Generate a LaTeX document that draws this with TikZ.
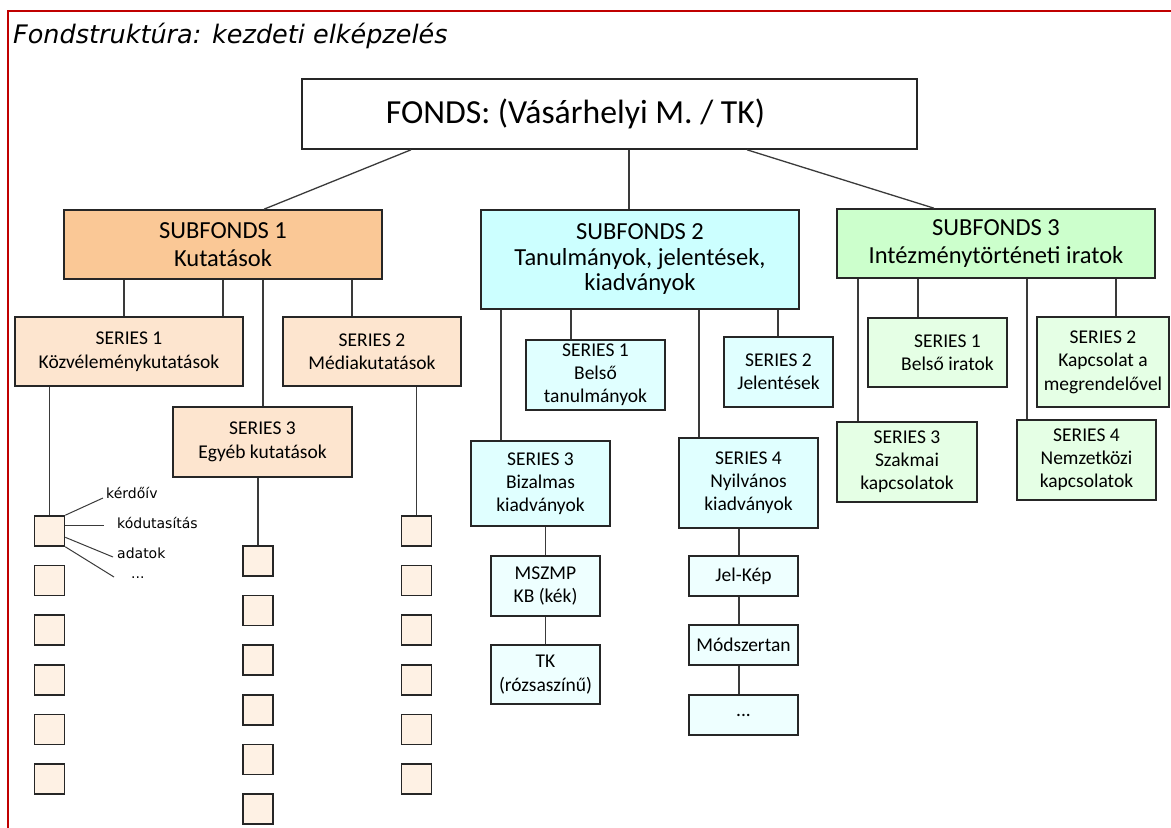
\documentclass[tikz,border=0pt]{standalone}
\usepackage{fontspec}
\setmainfont{Carlito}
\newfontfamily\verdfont{DejaVu Sans}
\usepackage{xcolor}
\usepackage{tikz}
\usetikzlibrary{calc}
\definecolor{frame}{HTML}{C00000}
\definecolor{edge}{HTML}{262626}
\definecolor{wire}{HTML}{3A3A3A}
\definecolor{orangeA}{HTML}{FAC896}
\definecolor{orangeB}{HTML}{FDE5CF}
\definecolor{orangeC}{HTML}{FEF1E4}
\definecolor{cyanA}{HTML}{CCFFFF}
\definecolor{cyanB}{HTML}{E0FFFF}
\definecolor{cyanC}{HTML}{EEFFFF}
\definecolor{greenA}{HTML}{CCFFCC}
\definecolor{greenB}{HTML}{E5FFE5}
\tikzset{
  box/.style={draw=edge, line width=1.6pt, align=center, inner sep=0pt},
  fondsbox/.style={box, fill=white, font=\fontsize{33.7}{40}\selectfont},
  subbox/.style={box, font=\fontsize{24.5}{28}\selectfont},
  serbox/.style={box, font=\fontsize{19.5}{23.5}\selectfont},
  unitbox/.style={box, fill=orangeC, minimum width=30pt, minimum height=30pt},
  conn/.style={draw=wire, line width=1.3pt},
  lab/.style={anchor=base west, inner sep=0pt, font=\verdfont\fontsize{14}{16}\selectfont}
}
\newcommand{\BoxAt}[6]{% style, name, left, top, right, bottom
  \node[#1, minimum width={#5pt-#3pt}, minimum height={#6pt-#4pt}]
    (#2) at ({(#3+#5)/2},{(#4+#6)/2})
}

\begin{document}
\begin{tikzpicture}[x=1pt, y=-1pt]
  \useasboundingbox (0,0) rectangle (1171,828);
  \draw[frame, line width=2pt] (1171,11) -- (8,11) -- (8,828);

  \node[anchor=base west, inner sep=0pt, font=\verdfont\itshape\fontsize{25.5}{30}\selectfont]
    (title) at (13,43) {Fondstruktúra: kezdeti elképzelés};

  % fonds and subfonds
  \BoxAt{fondsbox}{fonds}{302}{79}{917}{149} {FONDS: (Vásárhelyi M. / TK)\hspace*{68pt}};
  \BoxAt{subbox, fill=orangeA}{sfa}{64}{210}{382}{279} {SUBFONDS 1\\Kutatások};
  \BoxAt{subbox, fill=cyanA, font=\fontsize{24.5}{25.5}\selectfont}{sfb}{481}{210}{799}{309}
    {SUBFONDS 2\\Tanulmányok, jelentések,\\kiadványok};
  \BoxAt{subbox, fill=greenA}{sfc}{837}{209}{1155}{278} {SUBFONDS 3\\Intézménytörténeti iratok};

  \draw[conn] (411,0 |- fonds.south) -- (264,0 |- sfa.north);
  \draw[conn] (629,0 |- fonds.south) -- (629,0 |- sfb.north);
  \draw[conn] (747,0 |- fonds.south) -- (934,0 |- sfc.north);

  % subfonds 1
  \BoxAt{serbox, fill=orangeB}{osa}{15}{317}{243}{386} {SERIES 1\\Közvéleménykutatások};
  \BoxAt{serbox, fill=orangeB}{osb}{283}{317}{461}{386} {SERIES 2\\Médiakutatások};
  \BoxAt{serbox, fill=orangeB}{osc}{173}{407}{352}{477} {SERIES 3\\Egyéb kutatások};
  \draw[conn] (124,0 |- sfa.south) -- (124,0 |- osa.north);
  \draw[conn] (223,0 |- sfa.south) -- (223,0 |- osa.north);
  \draw[conn] (263,0 |- sfa.south) -- (263,0 |- osc.north);
  \draw[conn] (352,0 |- sfa.south) -- (352,0 |- osb.north);

  \foreach \i in {1,...,6} {
    \node[unitbox] (ua\i) at (49.5,{531+49.6*(\i-1)}) {};
    \node[unitbox] (ub\i) at (258,{561+49.6*(\i-1)}) {};
    \node[unitbox] (uc\i) at (416.5,{531+49.6*(\i-1)}) {};
  }
  \draw[conn] (ua1.north |- osa.south) -- (ua1.north);
  \draw[conn] (ub1.north |- osc.south) -- (ub1.north);
  \draw[conn] (uc1.north |- osb.south) -- (uc1.north);

  \node[lab] (lq) at (106,498) {kérdőív};
  \node[lab] (lk) at (117,528) {kódutasítás};
  \node[lab] (la) at (117,558) {adatok};
  \node[lab] (ld) at (131,578) {...};
  \draw[conn, line width=1pt] (ua1.north east) -- ([xshift=-3pt]lq.base west);
  \draw[conn, line width=1pt] ($(ua1.south east)!0.67!(ua1.north east)$) -- ++(39,0);
  \draw[conn, line width=1pt] ($(ua1.south east)!0.3!(ua1.north east)$) -- ([xshift=-4pt, yshift=1pt]la.base west);
  \draw[conn, line width=1pt] (ua1.south east) -- ([xshift=-17pt, yshift=1pt]ld.base west);

  % subfonds 2
  \BoxAt{serbox, fill=cyanB, font=\fontsize{19.5}{23}\selectfont}{bsa}{526}{340}{665}{410} {SERIES 1\\Belső\\tanulmányok};
  \BoxAt{serbox, fill=cyanB, font=\fontsize{19.5}{23}\selectfont}{bsb}{724}{337}{833}{407} {SERIES 2\\Jelentések};
  \BoxAt{serbox, fill=cyanB, font=\fontsize{19.5}{23}\selectfont}{bsc}{471}{441}{610}{526} {SERIES 3\\Bizalmas\\kiadványok};
  \BoxAt{serbox, fill=cyanB, font=\fontsize{19.5}{23}\selectfont}{bsd}{679}{438}{818}{528} {SERIES 4\\Nyilvános\\kiadványok};
  \draw[conn] (501,0 |- sfb.south) -- (501,0 |- bsc.north);
  \draw[conn] (571,0 |- sfb.south) -- (571,0 |- bsa.north);
  \draw[conn] (699,0 |- sfb.south) -- (699,0 |- bsd.north);
  \draw[conn] (778,0 |- sfb.south) -- (778,0 |- bsb.north);

  \BoxAt{serbox, fill=cyanC}{mszmp}{491}{556}{600}{616} {MSZMP\\KB (kék)};
  \BoxAt{serbox, fill=cyanC}{tkpink}{491}{645}{600}{704} {TK\\(rózsaszínű)};
  \BoxAt{serbox, fill=cyanC}{jelkep}{689}{556}{798}{596} {Jel-Kép};
  \BoxAt{serbox, fill=cyanC}{modsz}{689}{625}{798}{665} {Módszertan};
  \BoxAt{serbox, fill=cyanC}{more}{689}{695}{798}{735} {...};
  \draw[conn] (mszmp.north |- bsc.south) -- (mszmp.north);
  \draw[conn] (mszmp.south) -- (tkpink.north);
  \draw[conn] (739,0 |- bsd.south) -- (739,0 |- jelkep.north);
  \draw[conn] (739,0 |- jelkep.south) -- (739,0 |- modsz.north);
  \draw[conn] (739,0 |- modsz.south) -- (739,0 |- more.north);

  % subfonds 3
  \BoxAt{serbox, fill=greenB}{gsa}{868}{318}{1007}{387} {\hspace*{20pt}SERIES 1\\\hspace*{20pt}Belső iratok};
  \BoxAt{serbox, fill=greenB, font=\fontsize{19.5}{23.5}\selectfont}{gsb}{1037}{317}{1169}{407} {SERIES 2\\Kapcsolat a\\megrendelővel};
  \BoxAt{serbox, fill=greenB, font=\fontsize{19.5}{23}\selectfont}{gsc}{837}{422}{977}{502} {SERIES 3\\Szakmai\\kapcsolatok};
  \BoxAt{serbox, fill=greenB, font=\fontsize{19.5}{23}\selectfont}{gsd}{1017}{420}{1156}{500} {SERIES 4\\Nemzetközi\\kapcsolatok};
  \draw[conn] (858,0 |- sfc.south) -- (858,0 |- gsc.north);
  \draw[conn] (918,0 |- sfc.south) -- (918,0 |- gsa.north);
  \draw[conn] (1027,0 |- sfc.south) -- (1027,0 |- gsd.north);
  \draw[conn] (1116,0 |- sfc.south) -- (1116,0 |- gsb.north);
\end{tikzpicture}
\end{document}
